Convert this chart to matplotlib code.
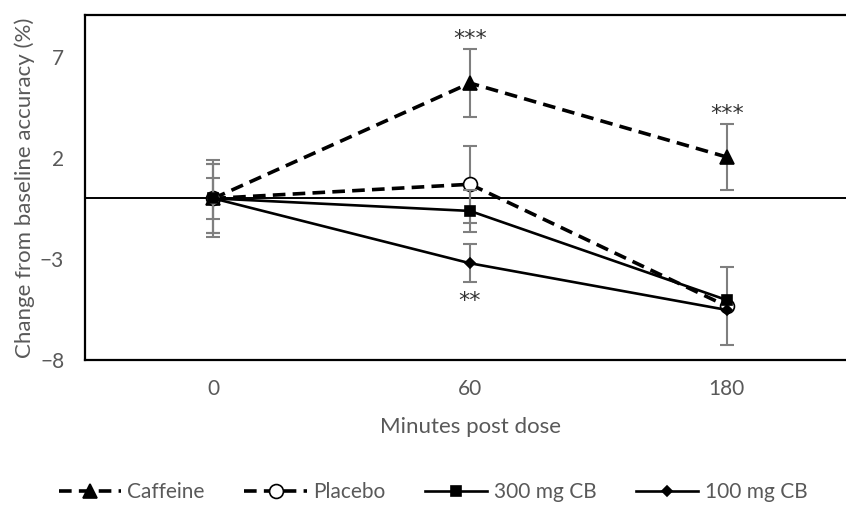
import numpy as np
import matplotlib
matplotlib.use("Agg")
import matplotlib.pyplot as plt

# data (change from baseline accuracy, %)
minutes = ["0", "60", "180"]
caffeine = [0.0, 5.71, 2.05]
placebo = [0.0, 0.70, -5.33]
cb300 = [0.0, -0.62, -5.03]
cb100 = [0.0, -3.21, -5.52]

caffeine_se = [1.70, 1.67, 1.65]
placebo_se = [1.90, 1.90, 1.92]
cb300_se = [1.00, 1.04, np.nan]
cb100_se = [1.70, 0.93, np.nan]

# significance marks per time point
stars_caf = ["", "***", "***"]
stars_100 = ["", "**", ""]

GREY = "#595959"
plt.rcParams["font.family"] = ["Lato", "DejaVu Sans"]

fig = plt.figure(figsize=(8.46, 5.05), dpi=100)
ax = fig.add_axes([85 / 846, 1 - 360 / 505, 770 / 846, 345 / 505])

x = np.arange(len(minutes))
series = [
    ("Caffeine", caffeine, caffeine_se, "^", "black", 9.5, (3.5, 2.0), 2.6),
    ("Placebo", placebo, placebo_se, "o", "white", 10, (3.5, 2.0), 2.6),
    ("300 mg CB", cb300, cb300_se, "s", "black", 7.5, None, 1.9),
    ("100 mg CB", cb100, cb100_se, "D", "black", 5.5, None, 1.9),
]

ax.axhline(0, color="black", lw=1.4, zorder=1)

handles = []
for i, (name, y, se, mk, fc, ms, dash, lw) in enumerate(series):
    ax.errorbar(x, y, yerr=se, fmt="none", ecolor="#7f7f7f", elinewidth=1.5,
                capsize=5, capthick=1.5, zorder=2 + i)
    ln, = ax.plot(x, y, color="black", lw=lw, marker=mk, ms=ms, mfc=fc,
                  mec="black", mew=1.2, zorder=3 + i, label=name)
    if dash is not None:
        ln.set_dashes(dash)
    handles.append(ln)

star_kw = dict(ha="center", va="center", fontsize=16, color="#333333",
               family="DejaVu Sans")
for xi, (yv, se, s) in enumerate(zip(caffeine, caffeine_se, stars_caf)):
    if s:
        ax.text(xi, yv + se + 0.5, s, **star_kw)
for xi, (yv, se, s) in enumerate(zip(cb100, cb100_se, stars_100)):
    if s:
        ax.text(xi, yv - se - 0.95, s, **star_kw)

ax.set_xlim(-0.5, 2.5)
ax.set_ylim(-8, 9.08)
ax.set_xticks(x)
ax.set_xticklabels(minutes)
ax.set_yticks([-8, -3, 2, 7])
ax.tick_params(length=0, labelsize=15, colors=GREY)
ax.tick_params(axis="x", pad=14)
ax.tick_params(axis="y", pad=15)
for side in ("left", "top", "bottom"):
    ax.spines[side].set_linewidth(1.6)
ax.spines["right"].set_visible(False)

ax.set_xlabel("Minutes post dose", fontsize=16, color=GREY, va="center")
ax.xaxis.set_label_coords(0.5, (360 - 427) / 345)
ax.set_ylabel("Change from baseline accuracy (%)", fontsize=16, color=GREY, va="center")
ax.yaxis.set_label_coords((25 - 85) / 770, 0.5)

leg = fig.legend(handles=handles, loc="center", bbox_to_anchor=(433 / 846, 1 - 492 / 505),
                 ncol=4, frameon=False, fontsize=15, handlelength=3.0,
                 columnspacing=1.9, handletextpad=0.3)
for t in leg.get_texts():
    t.set_color(GREY)

fig.savefig("out.png", dpi=100)
